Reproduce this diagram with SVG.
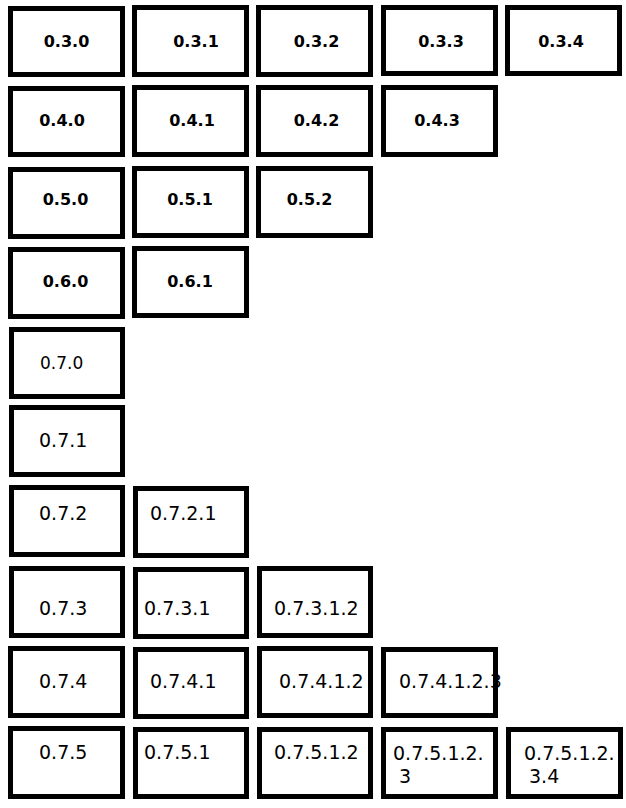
<svg xmlns="http://www.w3.org/2000/svg" width="626" height="808" viewBox="0 0 626 808">
<style>
rect.box{fill:none;stroke:#000;stroke-width:5}
text{font-family:"DejaVu Sans","Verdana",sans-serif;fill:#000}
text.b{font-weight:bold;font-size:16px}
text.r{font-size:19px}
</style>
<rect width="626" height="808" fill="#fff"/>
<g id="n030"><text class="b" x="66.5" y="47" text-anchor="middle">0.3.0</text><rect class="box" x="10.5" y="8.5" width="112" height="66"/></g>
<g id="n031"><text class="b" x="196" y="47" text-anchor="middle">0.3.1</text><rect class="box" x="134.5" y="7.5" width="112" height="67"/></g>
<g id="n032"><text class="b" x="316.5" y="47" text-anchor="middle">0.3.2</text><rect class="box" x="258.5" y="7.5" width="112" height="67"/></g>
<g id="n033"><text class="b" x="441" y="47" text-anchor="middle">0.3.3</text><rect class="box" x="383.5" y="7.5" width="112" height="66"/></g>
<g id="n034"><text class="b" x="561" y="47" text-anchor="middle">0.3.4</text><rect class="box" x="507.5" y="7.5" width="112" height="66"/></g>

<g id="n040"><text class="b" x="62" y="126" text-anchor="middle">0.4.0</text><rect class="box" x="10.5" y="88.5" width="112" height="66"/></g>
<g id="n041"><text class="b" x="192" y="126" text-anchor="middle">0.4.1</text><rect class="box" x="134.5" y="87.5" width="112" height="67"/></g>
<g id="n042"><text class="b" x="316.5" y="126" text-anchor="middle">0.4.2</text><rect class="box" x="258.5" y="87.5" width="112" height="67"/></g>
<g id="n043"><text class="b" x="437" y="126" text-anchor="middle">0.4.3</text><rect class="box" x="383.5" y="87.5" width="112" height="67"/></g>

<g id="n050"><text class="b" x="65.5" y="205" text-anchor="middle">0.5.0</text><rect class="box" x="10.5" y="169.5" width="112" height="67"/></g>
<g id="n051"><text class="b" x="190" y="205" text-anchor="middle">0.5.1</text><rect class="box" x="134.5" y="168.5" width="112" height="67"/></g>
<g id="n052"><text class="b" x="309.5" y="205" text-anchor="middle">0.5.2</text><rect class="box" x="258.5" y="168.5" width="112" height="67"/></g>

<g id="n060"><text class="b" x="65.5" y="287" text-anchor="middle">0.6.0</text><rect class="box" x="10.5" y="249.5" width="112" height="67"/></g>
<g id="n061"><text class="b" x="190" y="287" text-anchor="middle">0.6.1</text><rect class="box" x="134.5" y="248.5" width="112" height="67"/></g>

<g id="n070"><text x="40" y="369" style="font-size:17px">0.7.0</text><rect class="box" x="11.5" y="329.5" width="111" height="67"/></g>
<g id="n071"><text class="r" x="39" y="447">0.7.1</text><rect class="box" x="11.5" y="407.5" width="111" height="67"/></g>

<g id="n072"><text class="r" x="39" y="520">0.7.2</text><rect class="box" x="11.5" y="487.5" width="111" height="67"/></g>
<g id="n0721"><text class="r" x="150" y="520">0.7.2.1</text><rect class="box" x="135.5" y="488.5" width="111" height="67"/></g>

<g id="n073"><text class="r" x="39" y="615">0.7.3</text><rect class="box" x="11.5" y="568.5" width="111" height="67"/></g>
<g id="n0731"><text class="r" x="144" y="615">0.7.3.1</text><rect class="box" x="135.5" y="569.5" width="111" height="67"/></g>
<g id="n07312"><text class="r" x="274" y="615">0.7.3.1.2</text><rect class="box" x="259.5" y="568.5" width="111" height="67"/></g>

<g id="n074"><text class="r" x="39" y="688">0.7.4</text><rect class="box" x="10.5" y="648.5" width="112" height="67"/></g>
<g id="n0741"><text class="r" x="150" y="688">0.7.4.1</text><rect class="box" x="135.5" y="649.5" width="111" height="67"/></g>
<g id="n07412"><text class="r" x="279" y="688">0.7.4.1.2</text><rect class="box" x="259.5" y="648.5" width="111" height="67"/></g>
<g id="n074123"><text class="r" x="399" y="688">0.7.4.1.2.3</text><rect class="box" x="383.5" y="649.5" width="112" height="66"/></g>

<g id="n075"><text class="r" x="39" y="759">0.7.5</text><rect class="box" x="10.5" y="728.5" width="112" height="68"/></g>
<g id="n0751"><text class="r" x="144" y="759">0.7.5.1</text><rect class="box" x="135.5" y="729.5" width="111" height="67"/></g>
<g id="n07512"><text class="r" x="274" y="759">0.7.5.1.2</text><rect class="box" x="259.5" y="729.5" width="111" height="67"/></g>
<g id="n075123"><text class="r" x="393" y="760">0.7.5.1.2.</text><text class="r" x="399" y="783">3</text><rect class="box" x="383.5" y="729.5" width="112" height="67"/></g>
<g id="n0751234"><text class="r" x="524" y="760">0.7.5.1.2.</text><text class="r" x="529" y="783">3.4</text><rect class="box" x="508.5" y="729.5" width="112" height="67"/></g>

<g id="connectors"></g>
</svg>
